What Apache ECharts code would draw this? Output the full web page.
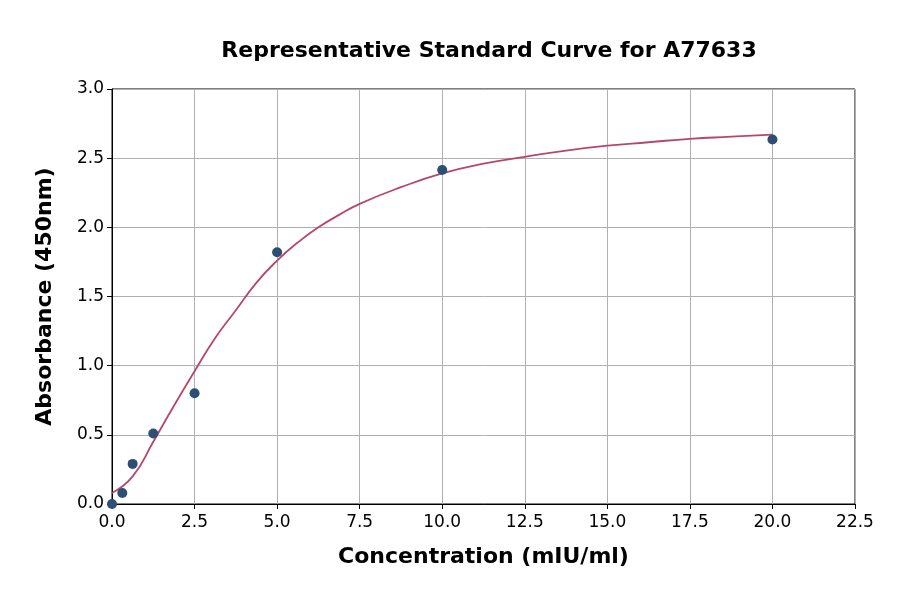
<!DOCTYPE html>
<html>
<head>
<meta charset="utf-8">
<script src="https://cdn.jsdelivr.net/npm/echarts@6/dist/echarts.min.js"></script>
<style>
  html, body { margin: 0; padding: 0; background: #fff; }
  #main { width: 900px; height: 594px; }
</style>
</head>
<body>
<div id="main"></div>
<script>
// measured standards
var conc = [0, 0.3125, 0.625, 1.25, 2.5, 5, 10, 20];
var absorb = [0.0, 0.08, 0.29, 0.51, 0.80, 1.82, 2.415, 2.635];

// fitted curve
var curveX = [0, 0.625, 1.25, 1.875, 2.5, 3.125, 3.75, 4.375, 5, 5.625, 6.25, 6.875, 7.5, 8.75, 10, 11.25, 12.5, 13.75, 15, 16.25, 17.5, 18.75, 20];
var curveY = [0.08, 0.20, 0.45, 0.71, 0.96, 1.20, 1.40, 1.60, 1.76, 1.89, 2.00, 2.09, 2.17, 2.29, 2.39, 2.46, 2.51, 2.555, 2.59, 2.615, 2.64, 2.655, 2.67];

var pts = conc.map(function (c, i) { return [c, absorb[i]]; });
var line = curveX.map(function (c, i) { return [c, curveY[i]]; });

var font = 'DejaVu Sans';
var myChart = echarts.init(document.getElementById('main'));

myChart.setOption({
    animation: false,
    title: {
        text: 'Representative Standard Curve for A77633',
        left: 484,
        top: 35,
        textAlign: 'center',
        textStyle: { fontFamily: font, fontSize: 22, fontWeight: 'bold', color: '#000' }
    },
    grid: { left: 112, right: 45, top: 89, bottom: 90, show: true, borderColor: '#000', borderWidth: 1 },
    xAxis: {
        type: 'value',
        min: 0, max: 22.5, interval: 2.5,
        name: 'Concentration (mIU/ml)',
        nameLocation: 'middle',
        nameGap: 42,
        nameTextStyle: { fontFamily: font, fontSize: 22, fontWeight: 'bold', color: '#000' },
        axisLine: { show: true, lineStyle: { color: '#000' } },
        axisTick: { show: true, length: 5, lineStyle: { color: '#000' } },
        axisLabel: {
            fontFamily: font, fontSize: 17, color: '#000', margin: 10,
            formatter: function (v) { return v.toFixed(1); }
        },
        splitLine: { show: true, lineStyle: { color: '#b0b0b0', width: 1 } }
    },
    yAxis: {
        type: 'value',
        min: 0, max: 3, interval: 0.5,
        name: 'Absorbance (450nm)',
        nameLocation: 'middle',
        nameGap: 56,
        nameTextStyle: { fontFamily: font, fontSize: 22, fontWeight: 'bold', color: '#000' },
        axisLine: { show: true, lineStyle: { color: '#000' } },
        axisTick: { show: true, length: 5, lineStyle: { color: '#000' } },
        axisLabel: {
            fontFamily: font, fontSize: 17, color: '#000', margin: 8,
            formatter: function (v) { return v.toFixed(1); }
        },
        splitLine: { show: true, lineStyle: { color: '#b0b0b0', width: 1 } }
    },
    series: [{
        name: 'fit',
        type: 'line',
        data: line,
        smooth: 0.5,
        showSymbol: false,
        lineStyle: { color: '#b5476b', width: 1.8 },
        z: 2
    }, {
        name: 'std',
        type: 'scatter',
        data: pts,
        symbolSize: 10,
        itemStyle: { color: '#2d4f73', opacity: 1 },
        z: 3
    }]
});
</script>
</body>
</html>
